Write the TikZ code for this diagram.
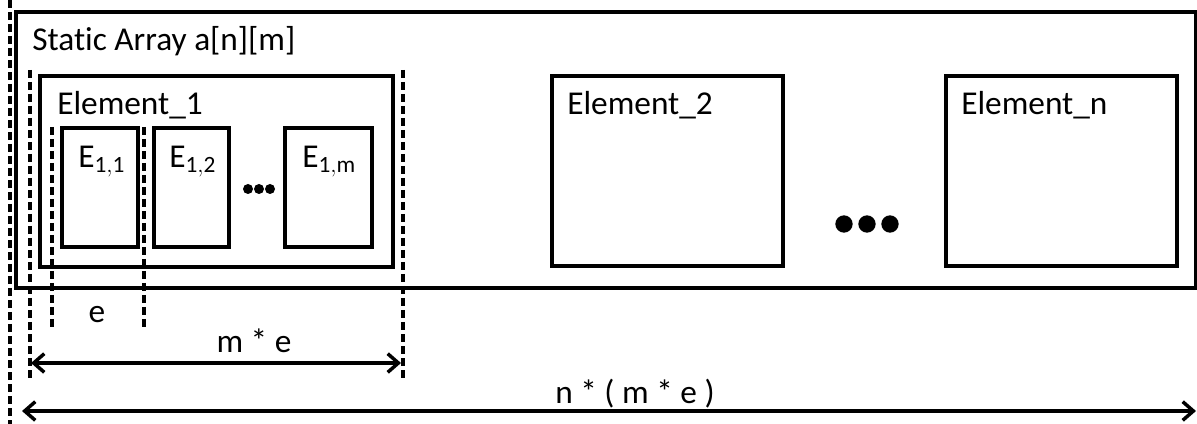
\documentclass[tikz,border=0pt]{standalone}
\usepackage{fontspec}
\setmainfont[Ligatures={NoCommon}]{Carlito}
\usetikzlibrary{arrows.meta,fit}
\begin{document}
\begin{tikzpicture}[x=0.75pt,y=-0.75pt,
  box/.style={draw=black,line width=2.6pt,inner sep=0pt},
  dashline/.style={line width=2.6pt,dash pattern=on 6pt off 3pt},
  lbl/.style={inner sep=0pt,anchor=base west,font=\fontsize{25}{30}\selectfont},
  sublbl/.style={inner sep=0pt,anchor=base west,font=\fontsize{25}{30}\selectfont},
  dim/.style={line width=2.6pt,{Straight Barb[length=8pt,width=14pt,line width=2.6pt]}-{Straight Barb[length=8pt,width=14pt,line width=2.6pt]}},
  dot/.style={fill=black,circle,inner sep=0pt,minimum size=#1}]
\useasboundingbox (0,0) rectangle (1197,424);
% outer array
\node[box,fit={(16,12) (1196,288)}] (arr) {};
\node[lbl] (arrlbl) at (32,51) {Static Array a[n][m]};
% elements
\node[box,fit={(40,76) (393,267)}] (el1) {};
\node[lbl] (el1lbl) at (57,115) {Element\_1};
\node[box,fit={(552,76) (783,266)}] (el2) {};
\node[lbl] (el2lbl) at (567,115) {Element\_2};
\node[box,fit={(946,76) (1177,266)}] (eln) {};
\node[lbl] (elnlbl) at (961,115) {Element\_n};
% sub elements
\node[box,fit={(62,128) (138,247)}] (e11) {};
\node[sublbl] (e11lbl) at (78,168) {E$_{\mathrm{1,1}}$};
\node[box,fit={(154,128) (229,247)}] (e12) {};
\node[sublbl] (e12lbl) at (169,168) {E$_{\mathrm{1,2}}$};
\node[box,fit={(285,128) (372,247)}] (e1m) {};
\node[sublbl] (e1mlbl) at (302,168) {E$_{\mathrm{1,m}}$};
% small dots
\node[dot=7.5pt] (d1) at (248,189) {};
\node[dot=7.5pt] (d2) at (259,189) {};
\node[dot=7.5pt] (d3) at (270,189) {};
% big dots
\node[dot=13pt] (b1) at (844,224) {};
\node[dot=13pt] (b2) at (867,224) {};
\node[dot=13pt] (b3) at (890,224) {};
% dashed guides
\coordinate (g0t) at (10,0);   \coordinate (g0b) at (10,424);
\coordinate (g1t) at (30,70);  \coordinate (g1b) at (30,378);
\coordinate (g2t) at (52,127); \coordinate (g2b) at (52,328);
\coordinate (g3t) at (144,127);\coordinate (g3b) at (144,328);
\coordinate (g4t) at (403,70); \coordinate (g4b) at (403,378);
\draw[dashline] (g0t) -- (g0b);
\draw[dashline] (g1t) -- (g1b);
\draw[dashline] (g2t) -- (g2b);
\draw[dashline] (g3t) -- (g3b);
\draw[dashline] (g4t) -- (g4b);
% labels
\node[lbl,anchor=base] (elbl) at (97,322) {e};
% dimension arrows
\coordinate (a1l) at (31,363); \coordinate (a1r) at (401,363);
\draw[dim] (a1l) -- (a1r);
\node[lbl,anchor=base] (melbl) at (254,353) {m * e};
\coordinate (a2l) at (22,411); \coordinate (a2r) at (1196,411);
\draw[dim] (a2l) -- (a2r);
\node[lbl,anchor=base] (nmelbl) at (635,403) {n * ( m * e )};
\end{tikzpicture}
\end{document}
